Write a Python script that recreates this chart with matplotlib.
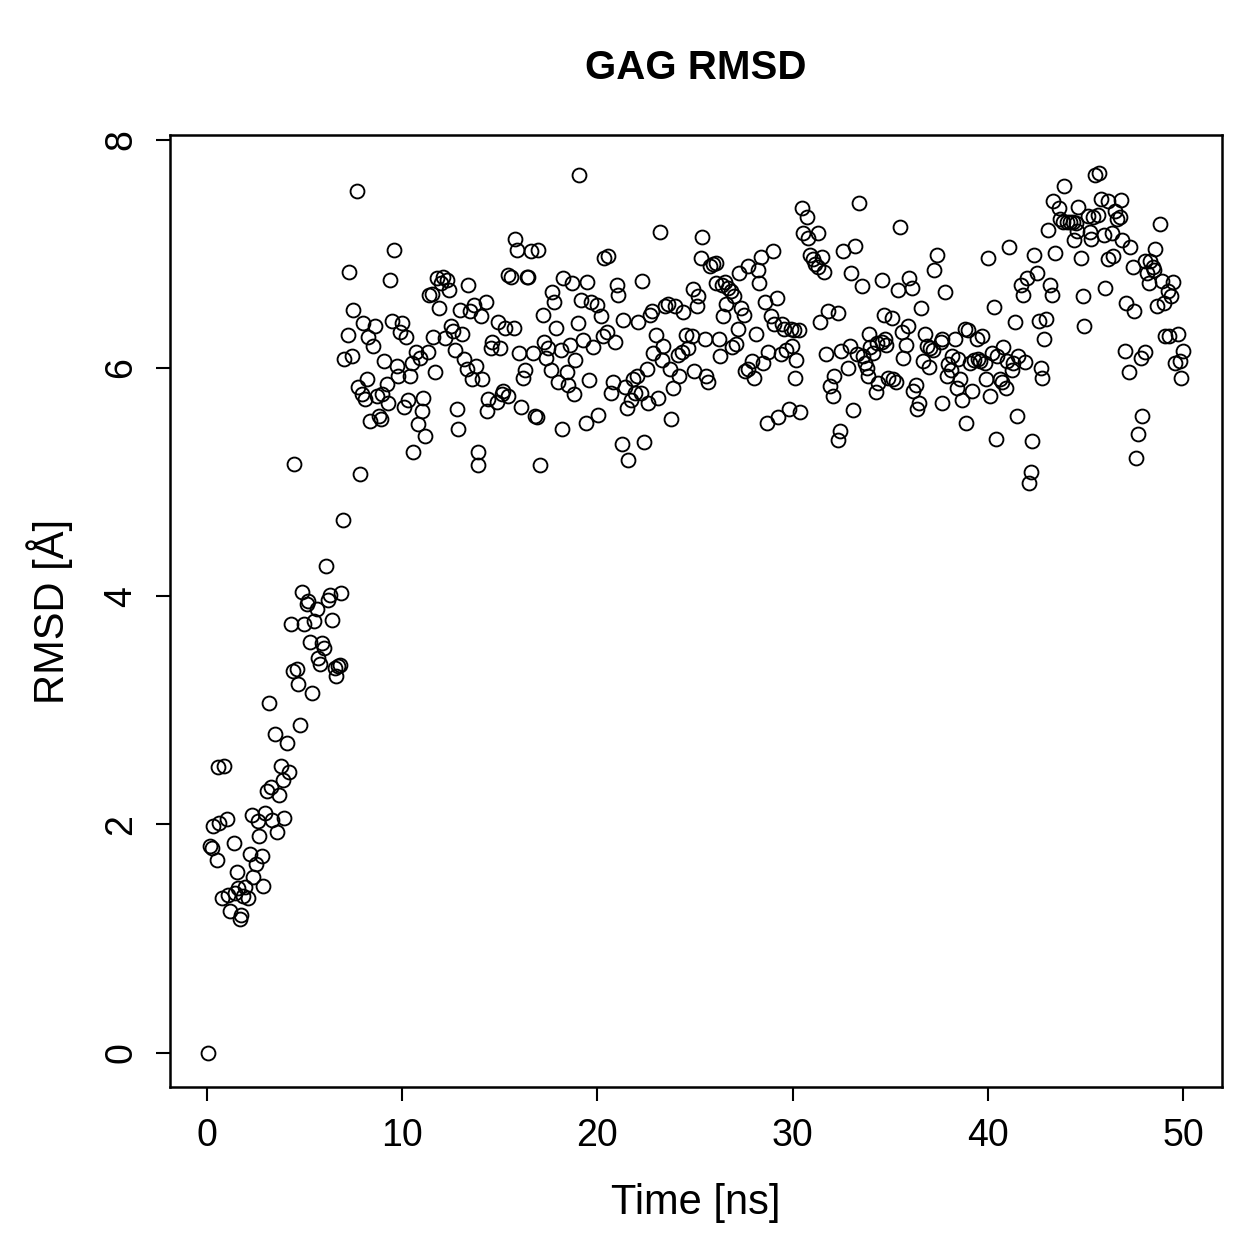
import matplotlib
matplotlib.use('Agg')
import matplotlib.pyplot as plt

plt.rcParams['font.family'] = ['Liberation Sans', 'DejaVu Sans']

# time [ns] / RMSD [A]
time_ns = [
    0.07, 0.15, 0.24, 0.32, 0.50, 0.58, 0.61, 0.75, 0.89, 1.00,
    1.09, 1.18, 1.40, 1.42, 1.52, 1.61, 1.69, 1.74, 1.86, 1.95,
    2.12, 2.20, 2.29, 2.37, 2.49, 2.60, 2.66, 2.80, 2.88, 2.97,
    3.06, 3.18, 3.28, 3.35, 3.48, 3.57, 3.69, 3.79, 3.91, 3.96,
    4.08, 4.20, 4.30, 4.42, 4.47, 4.60, 4.68, 4.76, 4.88, 4.99,
    5.10, 5.19, 5.28, 5.36, 5.50, 5.62, 5.67, 5.79, 5.88, 6.01,
    6.08, 6.18, 6.30, 6.39, 6.56, 6.59, 6.73, 6.81, 6.86, 6.98,
    7.03, 7.20, 7.27, 7.41, 7.49, 7.67, 7.75, 7.84, 7.92, 8.00,
    8.10, 8.20, 8.26, 8.35, 8.49, 8.60, 8.70, 8.81, 8.91, 8.98,
    9.08, 9.20, 9.29, 9.38, 9.46, 9.60, 9.72, 9.77, 9.89, 10.00,
    10.10, 10.20, 10.30, 10.40, 10.49, 10.57, 10.70, 10.80, 10.90, 11.03,
    11.08, 11.17, 11.30, 11.37, 11.50, 11.60, 11.68, 11.77, 11.90, 12.00,
    12.10, 12.19, 12.28, 12.40, 12.50, 12.62, 12.70, 12.79, 12.88, 12.98,
    13.08, 13.18, 13.30, 13.39, 13.49, 13.60, 13.70, 13.80, 13.87, 13.90,
    14.04, 14.07, 14.30, 14.33, 14.41, 14.55, 14.62, 14.84, 14.89, 15.01,
    15.10, 15.18, 15.27, 15.40, 15.44, 15.57, 15.74, 15.78, 15.90, 15.98,
    16.09, 16.20, 16.29, 16.38, 16.46, 16.58, 16.72, 16.80, 16.89, 16.97,
    17.06, 17.23, 17.28, 17.37, 17.45, 17.62, 17.69, 17.79, 17.88, 17.97,
    18.14, 18.20, 18.25, 18.43, 18.51, 18.60, 18.68, 18.80, 18.85, 18.99,
    19.07, 19.16, 19.28, 19.40, 19.48, 19.58, 19.67, 19.79, 19.96, 20.05,
    20.18, 20.30, 20.35, 20.50, 20.56, 20.70, 20.82, 20.90, 20.99, 21.07,
    21.28, 21.32, 21.41, 21.50, 21.58, 21.72, 21.84, 21.93, 22.01, 22.10,
    22.23, 22.27, 22.40, 22.53, 22.61, 22.70, 22.78, 22.87, 23.00, 23.09,
    23.20, 23.29, 23.38, 23.46, 23.60, 23.72, 23.77, 23.89, 23.98, 24.11,
    24.18, 24.35, 24.40, 24.52, 24.66, 24.83, 24.91, 24.96, 25.09, 25.17,
    25.31, 25.37, 25.51, 25.55, 25.68, 25.77, 25.94, 26.06, 26.10, 26.23,
    26.28, 26.37, 26.42, 26.53, 26.57, 26.70, 26.85, 26.88, 27.02, 27.08,
    27.19, 27.26, 27.36, 27.53, 27.57, 27.70, 27.74, 27.91, 28.04, 28.11,
    28.21, 28.28, 28.40, 28.50, 28.59, 28.67, 28.76, 28.89, 29.00, 29.06,
    29.19, 29.27, 29.40, 29.44, 29.58, 29.64, 29.82, 29.90, 29.95, 30.06,
    30.12, 30.20, 30.33, 30.38, 30.50, 30.55, 30.72, 30.81, 30.87, 31.04,
    31.13, 31.28, 31.32, 31.39, 31.50, 31.62, 31.69, 31.80, 31.92, 32.09,
    32.14, 32.31, 32.34, 32.43, 32.48, 32.60, 32.85, 32.94, 32.99, 33.11,
    33.22, 33.30, 33.40, 33.57, 33.62, 33.70, 33.79, 33.87, 33.93, 33.96,
    34.13, 34.28, 34.33, 34.40, 34.56, 34.60, 34.66, 34.73, 34.80, 34.88,
    35.08, 35.14, 35.31, 35.38, 35.50, 35.59, 35.67, 35.80, 35.93, 35.96,
    36.10, 36.18, 36.30, 36.36, 36.48, 36.58, 36.68, 36.78, 36.87, 36.98,
    37.04, 37.21, 37.26, 37.38, 37.60, 37.67, 37.68, 37.80, 37.89, 37.97,
    38.11, 38.15, 38.32, 38.41, 38.46, 38.58, 38.66, 38.83, 38.90, 39.00,
    39.09, 39.17, 39.31, 39.43, 39.52, 39.60, 39.72, 39.86, 39.89, 39.99,
    40.11, 40.20, 40.33, 40.40, 40.46, 40.63, 40.71, 40.80, 40.92, 40.97,
    41.09, 41.22, 41.31, 41.40, 41.51, 41.57, 41.70, 41.82, 41.91, 41.99,
    42.11, 42.21, 42.28, 42.38, 42.50, 42.60, 42.72, 42.79, 42.90, 43.00,
    43.10, 43.19, 43.30, 43.36, 43.47, 43.66, 43.72, 43.87, 43.92, 44.04,
    44.21, 44.38, 44.40, 44.52, 44.57, 44.64, 44.77, 44.88, 44.92, 45.15,
    45.24, 45.29, 45.40, 45.49, 45.66, 45.70, 45.80, 45.98, 46.02, 46.15,
    46.17, 46.35, 46.40, 46.51, 46.60, 46.77, 46.82, 46.86, 47.04, 47.07,
    47.22, 47.28, 47.42, 47.51, 47.57, 47.71, 47.84, 47.88, 48.04, 48.08,
    48.15, 48.27, 48.32, 48.49, 48.54, 48.57, 48.65, 48.82, 48.91, 49.05,
    49.08, 49.22, 49.29, 49.39, 49.50, 49.59, 49.73, 49.85, 49.90, 50.02,
]
rmsd = [
    0.00, 1.81, 1.79, 1.99, 1.69, 2.50, 2.01, 1.36, 2.51, 2.05,
    1.38, 1.24, 1.84, 1.40, 1.58, 1.44, 1.17, 1.21, 1.37, 1.45,
    1.36, 1.74, 2.08, 1.54, 1.65, 2.03, 1.90, 1.72, 1.46, 2.10,
    2.29, 3.06, 2.33, 2.04, 2.79, 1.93, 2.26, 2.51, 2.39, 2.06,
    2.71, 2.46, 3.76, 3.34, 5.16, 3.36, 3.23, 2.87, 4.04, 3.76,
    3.93, 3.96, 3.60, 3.15, 3.78, 3.89, 3.46, 3.41, 3.59, 3.55,
    4.26, 3.97, 4.01, 3.79, 3.37, 3.30, 3.39, 3.40, 4.03, 4.67,
    6.08, 6.29, 6.84, 6.10, 6.51, 7.55, 5.83, 5.07, 5.77, 6.39,
    5.73, 5.90, 6.27, 5.53, 6.19, 6.37, 5.75, 5.58, 5.55, 5.77,
    6.06, 5.86, 5.69, 6.77, 6.41, 7.03, 6.02, 5.93, 6.31, 6.39,
    5.66, 6.27, 5.72, 5.93, 6.04, 5.26, 6.14, 5.51, 6.09, 5.62,
    5.74, 5.40, 6.14, 6.64, 6.65, 6.27, 5.96, 6.79, 6.52, 6.74,
    6.80, 6.26, 6.77, 6.68, 6.37, 6.32, 6.16, 5.64, 5.46, 6.51,
    6.30, 6.08, 5.99, 6.73, 6.50, 5.90, 6.55, 6.02, 5.15, 5.26,
    6.45, 5.90, 6.58, 5.62, 5.73, 6.17, 6.23, 5.70, 6.40, 6.17,
    5.77, 5.80, 6.35, 5.75, 6.81, 6.80, 6.35, 7.13, 7.03, 6.13,
    5.66, 5.91, 5.98, 6.80, 6.80, 7.02, 6.13, 5.58, 5.57, 7.03,
    5.15, 6.46, 6.23, 6.09, 6.17, 5.98, 6.66, 6.58, 6.35, 5.88,
    6.16, 5.46, 6.79, 5.96, 5.85, 6.20, 6.74, 5.77, 6.07, 6.39,
    7.69, 6.59, 6.24, 5.52, 6.75, 5.89, 6.58, 6.18, 6.55, 5.59,
    6.45, 6.28, 6.96, 6.31, 6.98, 5.78, 5.88, 6.23, 6.73, 6.64,
    5.33, 6.42, 5.83, 5.65, 5.19, 5.72, 5.90, 5.78, 5.93, 6.40,
    5.78, 6.76, 5.35, 5.99, 5.69, 6.46, 6.50, 6.13, 6.29, 5.74,
    7.19, 6.07, 6.19, 6.54, 6.56, 5.99, 5.55, 5.82, 6.54, 6.11,
    5.93, 6.14, 6.49, 6.29, 6.17, 6.28, 6.69, 5.97, 6.54, 6.63,
    6.96, 7.15, 6.25, 5.93, 5.88, 6.89, 6.91, 6.92, 6.74, 6.25,
    6.10, 6.73, 6.45, 6.75, 6.56, 6.70, 6.67, 6.18, 6.63, 6.21,
    6.34, 6.83, 6.52, 6.46, 5.97, 6.89, 5.99, 6.06, 5.91, 6.30,
    6.86, 6.74, 6.97, 6.04, 6.58, 5.52, 6.14, 6.45, 7.02, 6.38,
    6.61, 5.57, 6.12, 6.38, 6.34, 6.16, 5.64, 6.34, 6.19, 6.33,
    5.91, 6.07, 6.33, 5.61, 7.40, 7.18, 7.32, 7.14, 6.99, 6.95,
    6.91, 6.88, 7.18, 6.40, 6.97, 6.84, 6.12, 6.50, 5.84, 5.75,
    5.93, 6.48, 5.37, 5.45, 6.15, 7.02, 6.00, 6.19, 6.83, 5.63,
    7.07, 6.12, 7.44, 6.72, 6.10, 6.04, 6.00, 5.93, 6.30, 6.18,
    6.13, 5.79, 6.22, 5.87, 6.23, 6.77, 6.46, 6.25, 6.20, 5.91,
    6.44, 5.90, 5.88, 6.68, 7.23, 6.31, 6.09, 6.20, 6.37, 6.79,
    6.70, 5.80, 5.85, 5.64, 5.69, 6.52, 6.06, 6.30, 6.19, 6.01,
    6.17, 6.16, 6.86, 6.99, 6.23, 6.25, 5.69, 6.66, 5.93, 6.03,
    5.98, 6.10, 6.25, 5.82, 6.08, 5.90, 5.72, 6.34, 5.52, 6.33,
    6.04, 5.80, 6.07, 6.25, 6.08, 6.06, 6.28, 6.04, 5.90, 6.96,
    5.75, 6.13, 6.53, 5.38, 6.10, 5.90, 5.88, 6.18, 5.82, 6.06,
    7.06, 5.98, 6.04, 6.40, 5.58, 6.10, 6.73, 6.64, 6.05, 6.79,
    4.99, 5.09, 5.36, 6.99, 6.83, 6.41, 6.00, 5.91, 6.25, 6.43,
    7.21, 6.73, 6.64, 7.46, 7.01, 7.40, 7.30, 7.28, 7.59, 7.28,
    7.28, 7.28, 7.12, 7.27, 7.20, 7.41, 6.96, 6.63, 6.37, 7.33,
    7.19, 7.13, 7.32, 7.69, 7.34, 7.71, 7.48, 7.16, 6.70, 6.95,
    7.46, 7.18, 6.98, 7.37, 7.30, 7.32, 7.47, 7.12, 6.15, 6.57,
    5.96, 7.06, 6.88, 6.50, 5.21, 5.42, 6.09, 5.58, 6.94, 6.14,
    6.83, 6.74, 6.94, 6.88, 6.86, 7.04, 6.54, 7.26, 6.76, 6.57,
    6.28, 6.67, 6.28, 6.63, 6.75, 6.04, 6.30, 6.06, 5.91, 6.15,
]

x_ticks = [0, 10, 20, 30, 40, 50]
y_ticks = [0, 2, 4, 6, 8]

fig = plt.figure(figsize=(12.59, 12.59), dpi=100)
ax = fig.add_axes([0.135, 0.1366, 0.8356, 0.7562])

ax.plot(time_ns, rmsd, 'o', mfc='none', mec='black', ms=10, mew=1.35)

ax.set_xlim(-1.9, 52.0)
ax.set_ylim(-0.30, 8.04)
ax.set_xticks(x_ticks)
ax.set_yticks(y_ticks)
for s in ax.spines.values():
    s.set_linewidth(1.8)
ax.tick_params(length=10, width=1.5, labelsize=27, direction='out')
ax.tick_params(axis='x', pad=12)
ax.tick_params(axis='y', pad=12, labelrotation=90)
for lab in ax.get_yticklabels():
    lab.set_va('center')

ax.set_xlabel('Time [ns]', fontsize=30)
ax.set_ylabel('RMSD [Å]', fontsize=30)
ax.xaxis.set_label_coords(0.5, -0.122)
ax.yaxis.set_label_coords(-0.114, 0.5)
ax.xaxis.label.set_va('center')
ax.yaxis.label.set_va('center')
ax.text(0.5, 1.0704, 'GAG RMSD', transform=ax.transAxes, ha='center', va='center',
        fontsize=29, fontweight='bold')

fig.savefig('out.png', dpi=100)
